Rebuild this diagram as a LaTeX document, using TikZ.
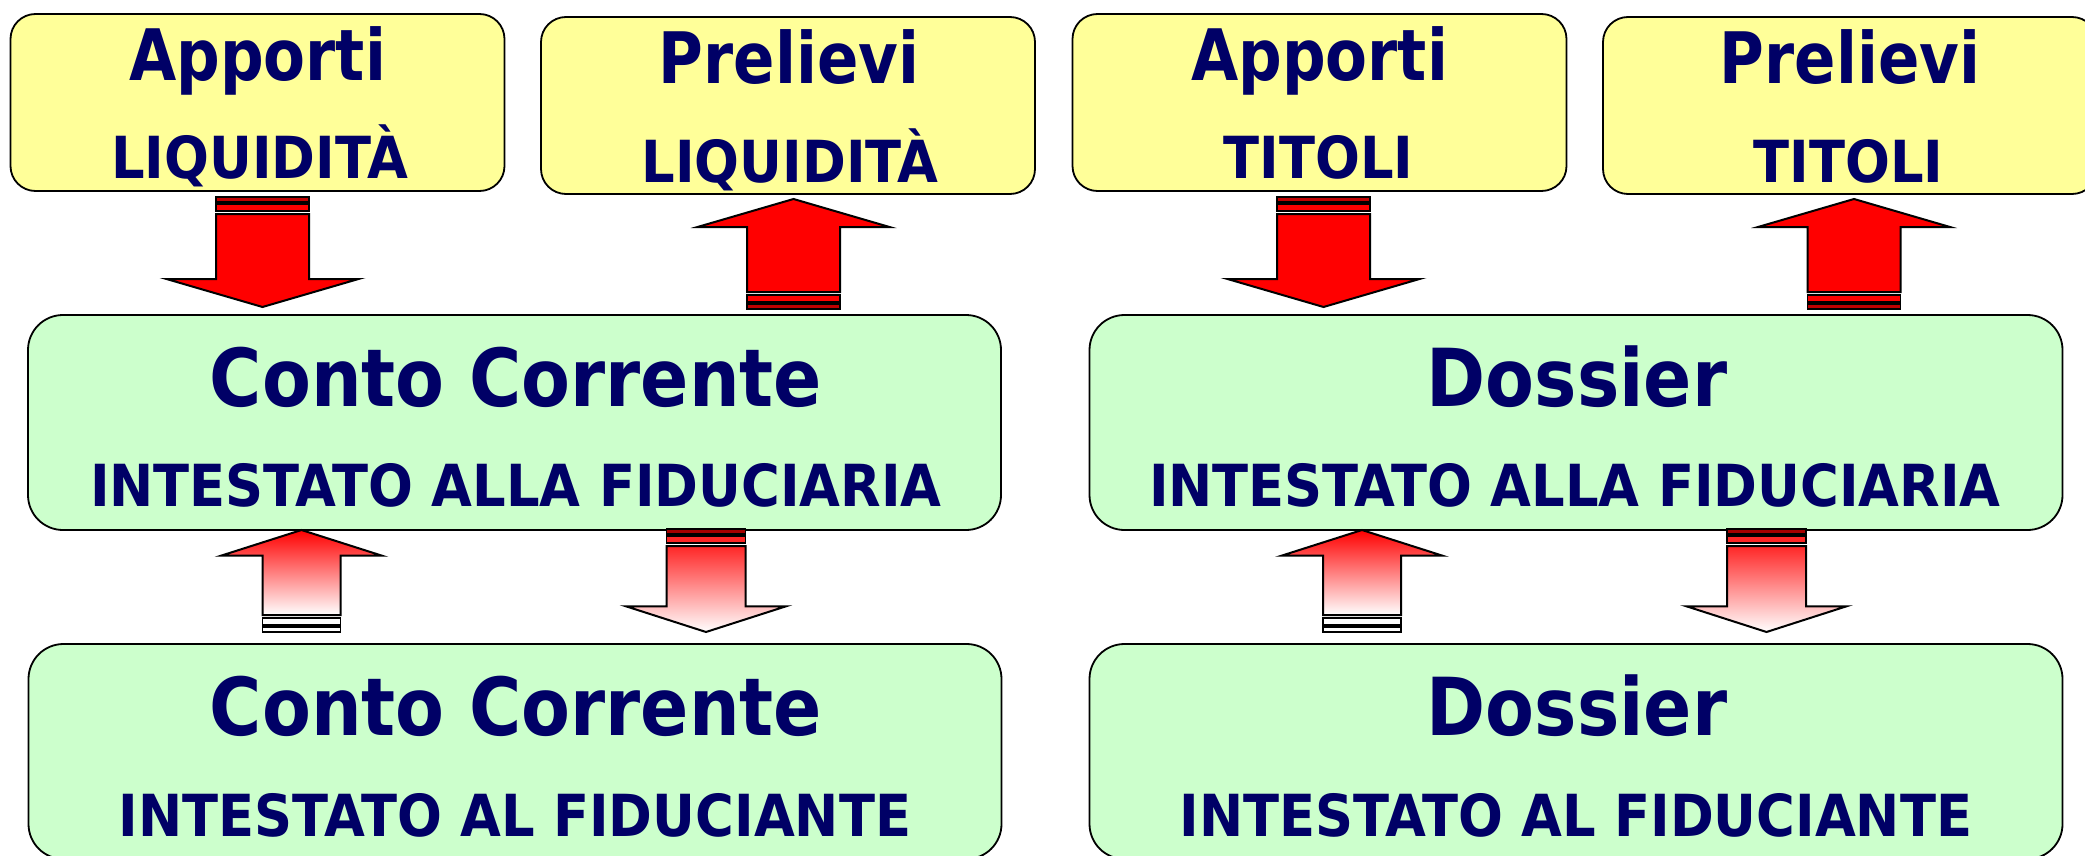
\documentclass[tikz,border=0pt]{standalone}
\usepackage{fontspec}
\newfontfamily\titlefont{DejaVu Sans}[FakeStretch=0.86]
\newfontfamily\bigfont{DejaVu Sans}[FakeStretch=0.89]
\newfontfamily\capsfont{DejaVu Sans}[FakeStretch=0.91]
\usetikzlibrary{calc}

\definecolor{txtblue}{RGB}{0,0,102}
\definecolor{boxyellow}{RGB}{255,255,153}
\definecolor{boxgreen}{RGB}{204,255,204}

% block arrow: #1 tail, #2 tip (y only), #3 half shaft, #4 half head, #5 head length,
% #6 body fill, #7 outer bar, #8 inner bar
\newcommand{\blockarrow}[8]{%
  \draw[arrowline, #6] let \p1=(#1), \p2=(#2), \n1={sign(\y2-\y1)} in
    ({\x1-#3pt},{\y1+(\n1)*17pt}) -- ({\x1-#3pt},{\y2-(\n1)*#5pt}) -- ({\x1-#4pt},{\y2-(\n1)*#5pt})
    -- ({\x1},{\y2}) -- ({\x1+#4pt},{\y2-(\n1)*#5pt}) -- ({\x1+#3pt},{\y2-(\n1)*#5pt})
    -- ({\x1+#3pt},{\y1+(\n1)*17pt}) -- cycle;
  \draw[barline, fill=#7] let \p1=(#1), \p2=(#2), \n1={sign(\y2-\y1)} in
    ({\x1-#3pt},{\y1}) rectangle ({\x1+#3pt},{\y1+(\n1)*5pt});
  \draw[barline, fill=#8] let \p1=(#1), \p2=(#2), \n1={sign(\y2-\y1)} in
    ({\x1-#3pt},{\y1+(\n1)*7pt}) rectangle ({\x1+#3pt},{\y1+(\n1)*14pt});
}

\tikzset{every picture/.style={line width=1.5pt},
  topbox/.style={draw, line width=1.8pt, fill=boxyellow, rounded corners=25pt,
    minimum width=494pt, minimum height=177pt, inner sep=0pt, outer sep=0pt},
  midbox/.style={draw, line width=1.8pt, fill=boxgreen, rounded corners=35pt,
    minimum width=973pt, minimum height=215pt, inner sep=0pt, outer sep=0pt},
  toptitle/.style={anchor=base, inner sep=0pt, text=txtblue, font=\titlefont\bfseries\fontsize{71}{80}\selectfont},
  bigtitle/.style={anchor=base, inner sep=0pt, text=txtblue, font=\bigfont\bfseries\fontsize{80}{90}\selectfont},
  capstext/.style={anchor=base, inner sep=0pt, text=txtblue, font=\capsfont\bfseries\fontsize{58}{64}\selectfont},
  arrowline/.style={draw=black, line width=2pt, line join=miter},
  barline/.style={draw=black, line width=1.5pt}
}

\begin{document}
\begin{tikzpicture}[x=1pt,y=1pt,yscale=-1,xscale=1]
\clip (0,0) rectangle (2085,856);

%Shape: top boxes
\node[topbox] (apliq) at (257.5,102.5) {};
\node[topbox] (prliq) at (788,105.5) {};
\node[topbox] (aptit) at (1319.5,102.5) {};
\node[topbox] (prtit) at (1850,105.5) {};
%Shape: middle and bottom boxes
\node[midbox] (ccfid) at (514.5,422.5) {};
\node[midbox] (dsfid) at (1576,422.5) {};
\node[midbox] (ccfc) at (515,751.5) {};
\node[midbox] (dsfc) at (1576,751.5) {};

% Text Node
\node[toptitle] (apliqa) at (257.5,80.5) {Apporti};
\node[capstext] (apliqb) at (259.5,178) {LIQUIDITÀ};
\node[toptitle] (prliqa) at (789,83.3) {Prelievi};
\node[capstext] (prliqb) at (790,182.7) {LIQUIDITÀ};
\node[toptitle] (aptita) at (1319.5,80.5) {Apporti};
\node[capstext] (aptitb) at (1318.5,178) {TITOLI};
\node[toptitle] (prtita) at (1850,83.3) {Prelievi};
\node[capstext] (prtitb) at (1848.5,182.7) {TITOLI};
% Text Node
\node[bigtitle] (ccfida) at (516,406) {Conto Corrente};
\node[capstext] (ccfidb) at (516,506.5) {INTESTATO ALLA FIDUCIARIA};
\node[bigtitle] (dsfida) at (1577,406) {Dossier};
\node[capstext] (dsfidb) at (1575,506.5) {INTESTATO ALLA FIDUCIARIA};
\node[bigtitle] (ccfca) at (516,735) {Conto Corrente};
\node[capstext] (ccfcb) at (515,836) {INTESTATO AL FIDUCIANTE};
\node[bigtitle] (dsfca) at (1577,735) {Dossier};
\node[capstext] (dsfcb) at (1576,836) {INTESTATO AL FIDUCIANTE};

%Block arrows, top row
\blockarrow{$(apliq.south)+(5,6)$}{$(ccfid.north)+(0,-8)$}{46.5}{96}{28}{fill=red}{red!75!black}{red}
\blockarrow{$(prliq.south |- ccfid.north)+(5.5,-6)$}{$(prliq.south)+(0,5)$}{46.5}{96}{28}{fill=red}{red!75!black}{red}
\blockarrow{$(aptit.south)+(4,6)$}{$(dsfid.north)+(0,-8)$}{46.5}{96}{28}{fill=red}{red!75!black}{red}
\blockarrow{$(prtit.south |- dsfid.north)+(4,-6)$}{$(prtit.south)+(0,5)$}{46.5}{96}{28}{fill=red}{red!75!black}{red}

%Block arrows, lower row
\blockarrow{$(ccfc.north)+(-213.5,-12)$}{ccfid.south}{39}{80.5}{25.7}{top color=red, bottom color=white}{white}{white}
\blockarrow{$(ccfid.south)+(191.5,-1)$}{$(ccfc.north)+(0,-12)$}{39.5}{80}{25.7}{top color=red!85!white, bottom color=white}{red!65!black}{red!85!white}
\blockarrow{$(dsfc.north)+(-214,-12)$}{dsfid.south}{39}{80.5}{25.7}{top color=red, bottom color=white}{white}{white}
\blockarrow{$(dsfid.south)+(190.5,-1)$}{$(dsfc.north)+(0,-12)$}{39.5}{80}{25.7}{top color=red!85!white, bottom color=white}{red!65!black}{red!85!white}

\end{tikzpicture}
\end{document}
